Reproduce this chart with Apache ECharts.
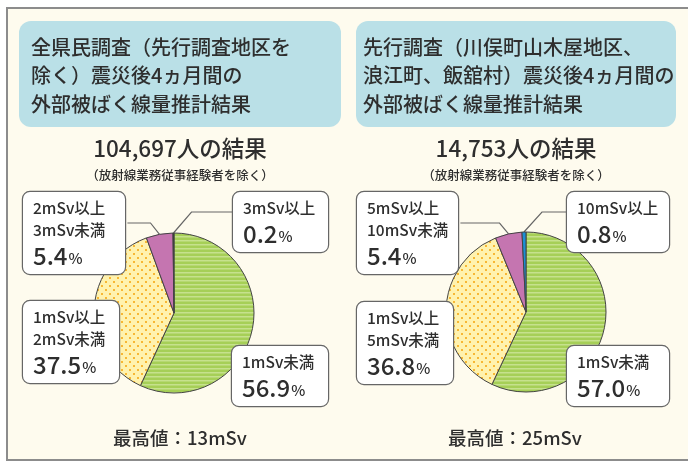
<!DOCTYPE html>
<html><head><meta charset="utf-8">
<script src="https://cdn.jsdelivr.net/npm/echarts@6/dist/echarts.min.js"></script>
<style>html,body{margin:0;padding:0;background:#fff}#c{width:688px;height:462px}</style>
</head><body><div id="c"></div>
<script>
// ---- data ----
const leftTitle = ['全県民調査（先行調査地区を', '除く）震災後4ヵ月間の', '外部被ばく線量推計結果'];
const rightTitle = ['先行調査（川俣町山木屋地区、', '浪江町、飯舘村）震災後4ヵ月間の', '外部被ばく線量推計結果'];
const leftCount = '104,697人の結果';
const rightCount = '14,753人の結果';
const note = '（放射線業務従事経験者を除く）';
const leftMax = '最高値：13mSv';
const rightMax = '最高値：25mSv';
const leftCats = ['1mSv未満', '1mSv以上\n2mSv未満', '2mSv以上\n3mSv未満', '3mSv以上'];
const leftVals = [56.9, 37.5, 5.4, 0.2];
const rightCats = ['1mSv未満', '1mSv以上\n5mSv未満', '5mSv以上\n10mSv未満', '10mSv以上'];
const rightVals = [57.0, 36.8, 5.4, 0.8];

// ---- patterns ----
function stripes() {
  const c = document.createElement('canvas'); c.width = 8; c.height = 4;
  const g = c.getContext('2d');
  g.fillStyle = '#a6cf57'; g.fillRect(0, 0, 8, 4);
  g.fillStyle = '#c6e18d'; g.fillRect(0, 0, 8, 1.5);
  return c;
}
function dots() {
  const c = document.createElement('canvas'); c.width = 8; c.height = 8;
  const g = c.getContext('2d');
  g.fillStyle = '#fff2ae'; g.fillRect(0, 0, 8, 8);
  g.fillStyle = '#f7b733';
  g.fillRect(1, 1, 2, 2); g.fillRect(5, 5, 2, 2);
  return c;
}
const green = { image: stripes(), repeat: 'repeat' };
const yellow = { image: dots(), repeat: 'repeat' };
const sliceColors = [green, yellow, '#c575b0'];

const FONT = '"Noto Sans CJK JP Medium", "Noto Sans CJK JP", "Noto Sans", sans-serif';
const TXT = '#2e2e2e';

const rich = {
  a: { fontSize: 15.5, lineHeight: 22, color: TXT, fontFamily: FONT },
  b: { fontSize: 24, lineHeight: 30, color: TXT, fontFamily: FONT },
  c: { fontSize: 15, lineHeight: 30, color: TXT, fontFamily: FONT, padding: [4, 0, 0, 1] }
};

// label box positions (top-left) and widths for each slice
const leftBoxes = [[232, 346, 78], [23, 301, 78], [23, 192, 84], [233, 192, 77]];
const rightBoxes = [[567, 346, 84], [357, 302, 78], [357, 192, 83], [567, 192, 84]];

function makeSeries(cats, vals, center, lastColor, boxes) {
  return {
    type: 'pie',
    center: center,
    radius: 80,
    startAngle: 90,
    clockwise: true,
    avoidLabelOverlap: false,
    animation: false,
    itemStyle: { borderColor: '#444', borderWidth: 1 },
    emphasis: { disabled: true },
    label: {
      show: true,
      position: 'outside',
      formatter: function (p) {
        const lines = p.name.split('\n').map(s => '{a|' + s + '}');
        lines.push('{b|' + p.value.toFixed(1) + '}{c|%}');
        return lines.join('\n');
      },
      rich: rich,
      align: 'left',
      backgroundColor: '#ffffff',
      borderColor: '#666',
      borderWidth: 1.2,
      borderRadius: 7,
      padding: [5, 8, 3, 10]
    },
    labelLine: { show: true, length: 8, length2: 10, lineStyle: { color: '#666', width: 1.2 }, smooth: false },
    labelLayout: function (params) {
      const i = params.dataIndex;
      const b = boxes[i];
      const out = { x: b[0], y: b[1], align: 'left', verticalAlign: 'top' };
      const pts = params.labelLinePoints;
      if (pts && i >= 2) {
        const a = pts[0];
        let end, mid;
        if (i === 2) { // box on the left of the slice
          end = [params.labelRect.width ? b[0] + params.labelRect.width : b[0] + 100, b[1] + 31];
          mid = [a[0] - 9, end[1]];
        } else { // box on the right
          end = [b[0], b[1] + 20];
          mid = [a[0] + 18, end[1]];
        }
        out.labelLinePoints = [a, mid, end];
      }
      return out;
    },
    data: vals.map((v, i) => ({
      name: cats[i],
      value: v,
      itemStyle: { color: i < 3 ? sliceColors[i] : lastColor },
      label: { width: boxes[i][2] },
      labelLine: { show: i >= 2 }
    }))
  };
}

const graphics = [
  { type: 'rect', shape: { x: 7, y: 8, width: 690, height: 452 }, style: { fill: '#fefbee', stroke: '#8c8c8c', lineWidth: 2 }, z: -10 },
  { type: 'rect', shape: { x: 19, y: 21, width: 322, height: 106, r: 12 }, style: { fill: '#bae0e7' }, z: -5 },
  { type: 'rect', shape: { x: 356, y: 21, width: 320, height: 106, r: 12 }, style: { fill: '#bae0e7' }, z: -5 }
];
function txt(x, y, text, size, align) {
  graphics.push({ type: 'text', x: x, y: y, style: { text: text, fontSize: size, fontFamily: FONT, fill: TXT, align: align || 'left', verticalAlign: 'middle' } });
}
leftTitle.forEach((t, i) => txt(31, 47 + i * 28.5, t, 20));
rightTitle.forEach((t, i) => txt(363, 47 + i * 28.5, t, 20));
txt(180, 148, leftCount, 22.5, 'center');
txt(516, 148, rightCount, 22.5, 'center');
txt(180, 175, note, 12.5, 'center');
txt(516, 175, note, 12.5, 'center');
txt(180, 438, leftMax, 18.5, 'center');
txt(515, 438, rightMax, 18.5, 'center');

const chart = echarts.init(document.getElementById('c'), null, { renderer: 'canvas' });
chart.setOption({
  backgroundColor: '#ffffff',
  animation: false,
  graphic: graphics,
  series: [
    makeSeries(leftCats, leftVals, [174, 313], '#2b2b2b', leftBoxes),
    makeSeries(rightCats, rightVals, [526, 312], '#1b8fd6', rightBoxes)
  ]
});
</script></body></html>
